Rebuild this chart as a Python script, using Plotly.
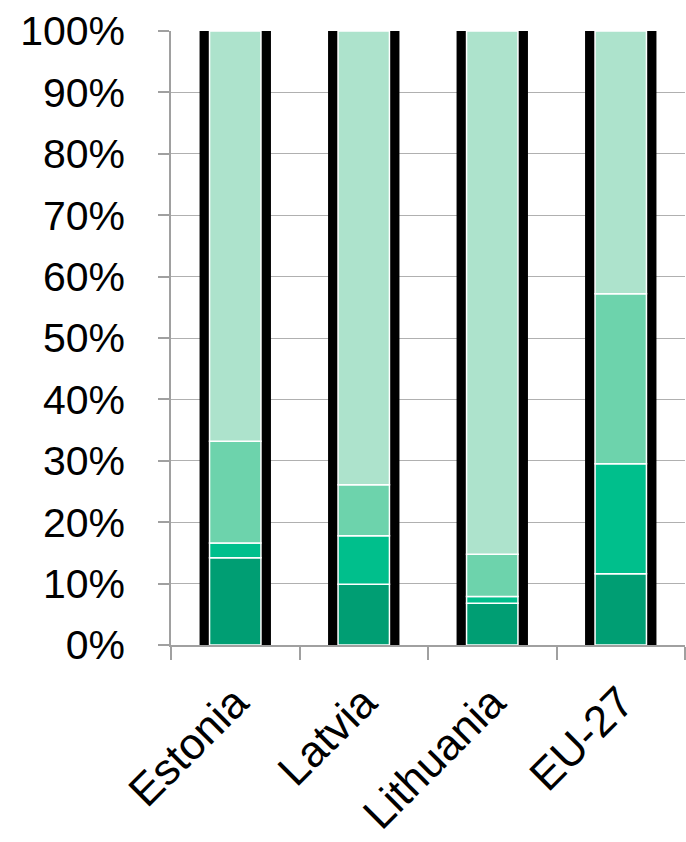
import plotly.graph_objects as go

categories = ["Estonia", "Latvia", "Lithuania", "EU-27"]
seg1 = [14.2, 9.9, 6.8, 11.6]
seg2 = [2.4, 7.9, 1.1, 17.9]
seg3 = [16.6, 8.3, 6.9, 27.7]
seg4 = [66.8, 73.9, 85.2, 42.8]
series = [seg1, seg2, seg3, seg4]
colors = ["#009e73", "#00bf8c", "#6dd3ac", "#ade3cc"]
y_ticks = [0, 10, 20, 30, 40, 50, 60, 70, 80, 90, 100]
y_tick_labels = ["0%", "10%", "20%", "30%", "40%", "50%", "60%", "70%", "80%", "90%", "100%"]

fig = go.Figure()

# black backing bars (100% each)
totals = [sum(v) for v in zip(*series)]
fig.add_trace(go.Bar(
    x=categories, y=totals, base=[0] * len(categories), width=0.54,
    marker=dict(color="black", line=dict(color="black", width=2)),
    cliponaxis=False, showlegend=False, hoverinfo="skip"))

base = [0.0] * len(categories)
for i, (vals, col) in enumerate(zip(series, colors)):
    fig.add_trace(go.Bar(
        x=categories, y=vals, base=list(base), width=0.40,
        marker=dict(color=col, line=dict(color="white", width=1.5)),
        name=f"Series {i+1}", showlegend=False))
    base = [b + v for b, v in zip(base, vals)]

fig.update_layout(
    barmode="overlay",
    width=686, height=842,
    margin=dict(l=171, r=1, t=31, b=197),
    paper_bgcolor="white", plot_bgcolor="white",
    font=dict(family="Liberation Sans, Arial, sans-serif", color="black"),
    showlegend=False,
)
fig.update_xaxes(
    range=[-0.5, 3.5], tickson="boundaries", ticks="outside", ticklen=13,
    tickcolor="#a0a0a0", tickwidth=1.5, showline=True, linecolor="#a0a0a0",
    linewidth=1.5, tickangle=-45, tickfont=dict(size=44),
    ticklabelstandoff=12, showgrid=False, automargin=False)
fig.update_yaxes(
    range=[0, 100], tickmode="array", tickvals=y_ticks, ticktext=y_tick_labels,
    ticks="outside",
    ticklen=11, tickcolor="#a0a0a0", tickwidth=1.5, showline=True,
    linecolor="#a0a0a0", linewidth=1.5, showgrid=True, gridcolor="#b0b0b0",
    gridwidth=1, tickfont=dict(size=41), ticklabelstandoff=25, zeroline=False,
    automargin=False)

fig.write_html("out.html")
